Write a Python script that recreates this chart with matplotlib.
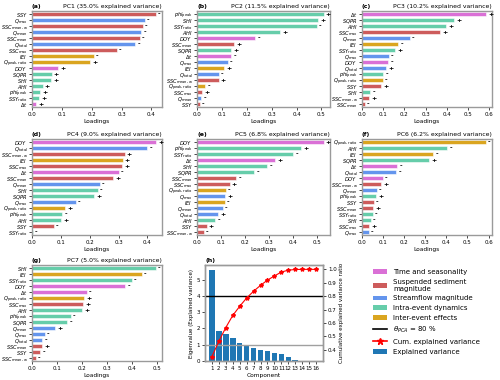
import matplotlib.pyplot as plt
from matplotlib.patches import Patch
from matplotlib.lines import Line2D
import numpy as np

# feature -> axis label
feature_labels = {
    "SSY": r"$SSY$",
    "Qmax": r"$Q_{\mathrm{max}}$",
    "SSCmw": r"$SSC_{\mathrm{mean,w}}$",
    "Qmean": r"$Q_{\mathrm{mean}}$",
    "SSCmean": r"$SSC_{\mathrm{mean}}$",
    "Qtotal": r"$Q_{\mathrm{total}}$",
    "SSCmax": r"$SSC_{\mathrm{max}}$",
    "IEI": r"$IEI$",
    "Qpr": r"$Q_{\mathrm{peak,ratio}}$",
    "DOY": r"$DOY$",
    "SQPR": r"$SQPR$",
    "SHI": r"$SHI$",
    "AHI": r"$AHI$",
    "phi": r"$phi_{\mathrm{peak}}$",
    "SSYr": r"$SSY_{\mathrm{ratio}}$",
    "dt": r"$\Delta t$",
}

group_names = [
    "Time and seasonality",
    "Suspended sediment\nmagnitude",
    "Streamflow magnitude",
    "Intra-event dynamics",
    "Inter-event effects",
]
group_colors = ["orchid", "indianred", "cornflowerblue", "mediumaquamarine", "goldenrod"]
feature_group = {
    "DOY": 0, "dt": 0,
    "SSY": 1, "SSCmw": 1, "SSCmean": 1, "SSCmax": 1,
    "Qmax": 2, "Qmean": 2, "Qtotal": 2,
    "SQPR": 3, "SHI": 3, "AHI": 3, "phi": 3, "SSYr": 3,
    "IEI": 4, "Qpr": 4,
}

# loadings per component (signed), in plotted order
pc1_features = ["SSY", "Qmax", "SSCmw", "Qmean", "SSCmean", "Qtotal", "SSCmax", "IEI",
                "Qpr", "DOY", "SQPR", "SHI", "AHI", "phi", "SSYr", "dt"]
pc1_loadings = [-0.415, -0.378, -0.372, -0.367, -0.361, -0.346, -0.285, -0.207,
                0.195, 0.088, 0.066, 0.065, 0.036, 0.027, 0.025, 0.013]

pc2_features = ["phi", "SHI", "SSYr", "AHI", "DOY", "SSCmean", "SQPR", "dt",
                "Qmax", "IEI", "Qtotal", "SSCmw", "Qpr", "SSCmax", "Qmean", "SSY"]
pc2_loadings = [0.509, 0.488, -0.481, 0.334, -0.234, 0.149, 0.138, -0.137,
                -0.124, 0.110, -0.088, 0.087, -0.034, 0.020, -0.017, -0.011]

pc3_features = ["dt", "SQPR", "AHI", "SSCmax", "Qmean", "IEI", "SSYr", "Qmax",
                "DOY", "Qtotal", "phi", "Qpr", "SSY", "SHI", "SSCmw", "SSCmean"]
pc3_loadings = [0.584, 0.434, 0.398, 0.368, -0.226, -0.171, 0.155, -0.126,
                -0.123, 0.114, -0.100, -0.098, 0.090, -0.039, 0.032, -0.013]

pc4_features = ["DOY", "Qtotal", "SSCmw", "IEI", "SSCmax", "dt", "SSCmean", "Qmean",
                "SHI", "SQPR", "Qmax", "Qpr", "phi", "AHI", "SSY", "SSYr"]
pc4_loadings = [0.429, -0.400, 0.321, 0.314, 0.313, -0.300, 0.282, -0.235,
                -0.227, 0.215, -0.151, 0.114, -0.105, 0.100, -0.076, -0.003]

pc5_features = ["DOY", "phi", "SSYr", "dt", "SHI", "SQPR", "SSCmean", "SSCmax",
                "Qpr", "Qmax", "IEI", "Qmean", "Qtotal", "AHI", "SSY", "SSCmw"]
pc5_loadings = [0.529, 0.436, -0.403, 0.326, -0.293, -0.240, -0.164, 0.136,
                -0.121, 0.119, -0.117, -0.107, 0.089, -0.076, 0.040, -0.029]

pc6_features = ["Qpr", "AHI", "IEI", "SQPR", "dt", "Qtotal", "DOY", "SSCmw",
                "Qmean", "phi", "SSY", "SSCmean", "SSYr", "SHI", "SSCmax", "Qmax"]
pc6_loadings = [-0.587, -0.405, -0.338, 0.317, -0.167, -0.163, -0.098, 0.092,
                -0.071, 0.068, -0.057, 0.052, -0.051, -0.043, 0.035, -0.032]

pc7_features = ["SHI", "IEI", "SSYr", "DOY", "dt", "Qpr", "SSCmax", "AHI",
                "phi", "SQPR", "Qmean", "Qmax", "Qtotal", "SSCmean", "SSY", "SSCmw"]
pc7_loadings = [-0.497, -0.440, -0.400, -0.375, -0.220, 0.210, 0.205, 0.200,
                -0.155, -0.142, 0.094, -0.052, -0.042, 0.040, -0.034, -0.015]

pc_titles = [
    "PC1 (35.0% explained variance)",
    "PC2 (11.5% explained variance)",
    "PC3 (10.2% explained variance)",
    "PC4 (9.0% explained variance)",
    "PC5 (6.8% explained variance)",
    "PC6 (6.2% explained variance)",
    "PC7 (5.0% explained variance)",
]

# scree data
components = list(range(1, 17))
eigenvalues = [5.62, 1.84, 1.63, 1.43, 1.08, 0.98, 0.77, 0.69,
               0.61, 0.51, 0.45, 0.22, 0.09, 0.02, 0.01, 0.0]
cum_ratio = [0.350, 0.465, 0.567, 0.657, 0.725, 0.787, 0.837, 0.881,
             0.920, 0.951, 0.980, 0.994, 0.999, 1.0, 1.0, 1.0]
theta_pca = 0.8
kaiser = 1.0

W, H = 500, 380
fig = plt.figure(figsize=(5, 3.8), dpi=100)


def px_axes(left, top, right, bottom):
    return fig.add_axes([left / W, 1 - bottom / H, (right - left) / W, (bottom - top) / H])


def style_spines(ax):
    for s in ax.spines.values():
        s.set_color("#9a9a9a")
        s.set_linewidth(1.0)
    ax.tick_params(length=2, width=0.5, labelsize=4, pad=1.5)


def plot_loadings(ax, features, loadings, letter, title):
    vals = np.abs(loadings)
    y = np.arange(len(features))
    colors = [group_colors[feature_group[f]] for f in features]
    ax.barh(y, vals, height=0.8, color=colors, edgecolor="white", linewidth=0.4)
    ax.set_ylim(len(features) - 0.5, -0.5)
    ax.set_yticks(y)
    ax.set_yticklabels([feature_labels[f] for f in features])
    for yi, v, l in zip(y, vals, loadings):
        ax.annotate("+" if l > 0 else "-", (v, yi), xytext=(1.5, 0),
                    textcoords="offset points", va="center", ha="left",
                    fontsize=4.5, fontweight="bold", annotation_clip=False)
    ax.set_xlabel("Loadings", fontsize=4.2, labelpad=1.5)
    ax.set_title(letter, loc="left", fontsize=4.5, fontweight="bold", pad=2)
    ax.set_title(title, loc="right", fontsize=4.4, pad=2)
    style_spines(ax)
    ax.tick_params(axis="y", labelsize=3.7, pad=1.2)


rows = [(11, 107), (139, 235), (265, 361)]
cols = [(32, 162), (197, 330), (362, 492)]

panels = [
    (pc1_features, pc1_loadings),
    (pc2_features, pc2_loadings),
    (pc3_features, pc3_loadings),
    (pc4_features, pc4_loadings),
    (pc5_features, pc5_loadings),
    (pc6_features, pc6_loadings),
    (pc7_features, pc7_loadings),
]
letters = ["(a)", "(b)", "(c)", "(d)", "(e)", "(f)", "(g)"]

for i, (feats, loads) in enumerate(panels):
    r, c = divmod(i, 3)
    ax = px_axes(cols[c][0], rows[r][0], cols[c][1], rows[r][1])
    plot_loadings(ax, feats, loads, letters[i], pc_titles[i])

# scree plot
ax_h = px_axes(205, 265, 323, 361)
ax_h.bar(components, eigenvalues, width=0.8, color="tab:blue")
ax_h.axhline(kaiser, color="#a0a0a0", lw=1.0)
ax_h.set_xlim(0, 17)
ax_h.set_xticks(components)
ax_h.set_xlabel("Component", fontsize=4.2, labelpad=1.5)
ax_h.set_ylabel("Eigenvalue (Explained variance)", fontsize=4, labelpad=2)
ax_h.set_title("(h)", loc="left", fontsize=4.5, fontweight="bold", pad=2)
style_spines(ax_h)

ax_h2 = ax_h.twinx()
ax_h2.axhline(theta_pca, color="black", lw=1.0)
ax_h2.plot(components, cum_ratio, "r*-", ms=3, lw=0.8)
ax_h2.set_ylabel("Cumulative explained variance ratio", fontsize=4, labelpad=2)
style_spines(ax_h2)

handles = [Patch(facecolor=c) for c in group_colors]
handles += [
    Line2D([], [], color="black", lw=1.2),
    Line2D([], [], color="red", marker="*", lw=1.2, ms=5),
    Patch(facecolor="tab:blue"),
]
labels = group_names + [r"$\theta_{PCA}$ = 80 %", "Cum. explained variance", "Explained variance"]
fig.legend(handles, labels, loc="upper left", bbox_to_anchor=(370 / W, 1 - 266 / H),
           frameon=False, fontsize=5, handlelength=2.0, handletextpad=0.9,
           labelspacing=0.55, borderaxespad=0)

fig.savefig("out.png", dpi=100)
